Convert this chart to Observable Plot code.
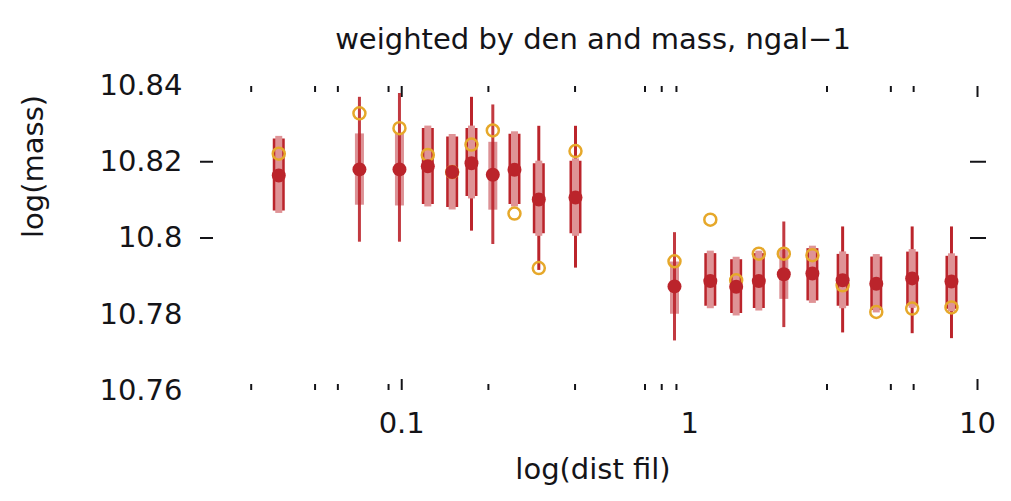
<!DOCTYPE html>
<html><head><meta charset="utf-8">
<script src="https://cdn.jsdelivr.net/npm/d3@7"></script>
<script src="https://cdn.jsdelivr.net/npm/@observablehq/plot@0.6"></script>
<style>body{margin:0;background:#fff}</style>
</head><body><div id="chart"></div>
<script>
// log(dist_fil) bin centres
const distFil   = [0.0374, 0.0713, 0.0982, 0.1232, 0.1497, 0.1747, 0.2072, 0.2464, 0.2993, 0.4014,
                   0.886, 1.18, 1.451, 1.739, 2.124, 2.67, 3.40, 4.45, 5.93, 8.12];
// weighted mean log(mass) (filled dots)
const meanMass  = [10.8164, 10.8180, 10.8180, 10.8188, 10.8173, 10.8196, 10.8166, 10.8179, 10.8101, 10.8106,
                   10.7873, 10.7887, 10.7872, 10.7887, 10.7905, 10.7907, 10.7889, 10.7880, 10.7894, 10.7886];
// second estimate (open circles)
const altMass   = [10.8221, 10.8327, 10.8288, 10.8218, 10.8173, 10.8245, 10.8282, 10.8064, 10.7921, 10.8228,
                   10.7939, 10.8048, 10.7889, 10.7959, 10.7959, 10.7955, 10.7876, 10.7806, 10.7815, 10.7818];
// box range
const boxLo     = [10.8071, 10.8086, 10.8084, 10.8088, 10.8080, 10.8109, 10.8073, 10.8088, 10.8011, 10.8011,
                   10.7800, 10.7821, 10.7802, 10.7815, 10.7839, 10.7835, 10.7821, 10.7810, 10.7822, 10.7813];
const boxHi     = [10.8260, 10.8273, 10.8273, 10.8287, 10.8265, 10.8287, 10.8251, 10.8272, 10.8195, 10.8201,
                   10.7937, 10.7959, 10.7943, 10.7959, 10.7968, 10.7972, 10.7957, 10.7950, 10.7963, 10.7952];
// error bar range (null where it lies inside the box)
const whiskerLo = [null, 10.7989, 10.7989, null, null, 10.8018, 10.7983, null, 10.7915, 10.7921,
                   10.7730, null, null, null, 10.7765, null, 10.7751, null, 10.7749, 10.7736];
const whiskerHi = [null, 10.8369, 10.8379, null, null, 10.8369, 10.8349, null, 10.8293, 10.8293,
                   10.8014, null, null, null, 10.8042, null, 10.8029, null, 10.8029, 10.8029];
// box kind: "outlined" or "filled"
const boxKind   = ["outlined","filled","filled","outlined","outlined","outlined","filled","outlined","outlined","outlined",
                   "filled","outlined","outlined","outlined","filled","outlined","outlined","outlined","outlined","outlined"];

const xLabelTicks = [0.1, 1, 10];
const xLabelText  = ["0.1", "1", "10"];
const xMinorTicks = [0.03, 0.05, 0.06, 0.09, 0.2, 0.4, 0.7, 0.8, 0.9, 3, 5, 6];
const xMajorTicks = [0.1, 10];
const yLabelTicks = [10.76, 10.78, 10.80, 10.82, 10.84];
const yLabelText  = ["10.76", "10.78", "10.8", "10.82", "10.84"];
const yMarkTicks  = [10.80, 10.82];

const rows = distFil.map((x, i) => ({
  x, mean: meanMass[i], alt: altMass[i], lo: boxLo[i], hi: boxHi[i],
  wlo: whiskerLo[i], whi: whiskerHi[i], kind: boxKind[i]
}));
const whisk = rows.filter(d => d.wlo != null);
const outl = rows.filter(d => d.kind === "outlined");
const fill = rows.filter(d => d.kind === "filled");

const dark = "#bb242b", pinkSolid = "#df9396", orange = "#e6a82a", ink = "#141418";
const FS = 29;

const chart = Plot.plot({
  width: 1011, height: 501,
  marginLeft: 200, marginRight: 26, marginTop: 85, marginBottom: 111,
  style: {fontFamily: "DejaVu Sans", background: "white", color: ink},
  x: {type: "log", domain: [0.02, 10.66], label: null},
  y: {domain: [10.76, 10.84], label: null},
  marks: [
    // tick marks (inward)
    Plot.axisX({anchor: "bottom", ticks: xMinorTicks, tickSize: -6, strokeWidth: 2, tickFormat: () => "", label: null}),
    Plot.axisX({anchor: "bottom", ticks: xMajorTicks, tickSize: -11, strokeWidth: 2, tickFormat: () => "", label: null}),
    Plot.axisX({anchor: "top", ticks: xMinorTicks, tickSize: -6, strokeWidth: 2, tickFormat: () => "", label: null}),
    Plot.axisX({anchor: "top", ticks: xMajorTicks, tickSize: -11, strokeWidth: 2, tickFormat: () => "", label: null}),
    Plot.axisY({anchor: "left", ticks: yMarkTicks, tickSize: -13, strokeWidth: 2, tickFormat: () => "", label: null}),
    Plot.axisY({anchor: "right", ticks: yMarkTicks, tickSize: -16, strokeWidth: 2, tickFormat: () => "", label: null}),
    // tick labels
    Plot.text(xLabelTicks, {x: d => d, text: (d, i) => xLabelText[i], frameAnchor: "bottom", dy: 42, fontSize: FS, fill: ink}),
    Plot.text(yLabelTicks, {y: d => d, text: (d, i) => yLabelText[i], frameAnchor: "left", dx: -18, textAnchor: "end", fontSize: FS, fill: ink}),
    // titles
    Plot.text(["weighted by den and mass, ngal\u22121"], {frameAnchor: "top", dy: -57, fontSize: FS, fill: ink}),
    Plot.text(["log(dist fil)"], {frameAnchor: "bottom", dy: 88, fontSize: FS, fill: ink}),
    Plot.text(["log(mass)"], {frameAnchor: "left", dx: -167, rotate: -90, fontSize: FS, fill: ink}),
    // data: outlined boxes (whisker behind)
    Plot.ruleX(whisk.filter(d => d.kind === "outlined"), {x: "x", y1: "wlo", y2: "whi", stroke: dark, strokeWidth: 3}),
    Plot.ruleX(outl, {x: "x", y1: "lo", y2: "hi", stroke: dark, strokeWidth: 12}),
    Plot.ruleX(outl, {x: "x", y1: "lo", y2: "hi", stroke: pinkSolid, strokeWidth: 7, insetTop: 2.5, insetBottom: 2.5}),
    // filled boxes (whisker in front)
    Plot.ruleX(fill, {x: "x", y1: "lo", y2: "hi", stroke: dark, strokeOpacity: 0.5, strokeWidth: 9}),
    Plot.ruleX(whisk.filter(d => d.kind === "filled"), {x: "x", y1: "wlo", y2: "whi", stroke: dark, strokeWidth: 3, strokeOpacity: 0.9}),
    // open circles and filled dots
    Plot.dot(rows, {x: "x", y: "alt", r: 6, stroke: orange, strokeWidth: 2.5, fill: "none"}),
    Plot.dot(rows, {x: "x", y: "mean", r: 7, fill: dark, stroke: "none"})
  ]
});
document.getElementById("chart").append(chart);
</script>
</body></html>
